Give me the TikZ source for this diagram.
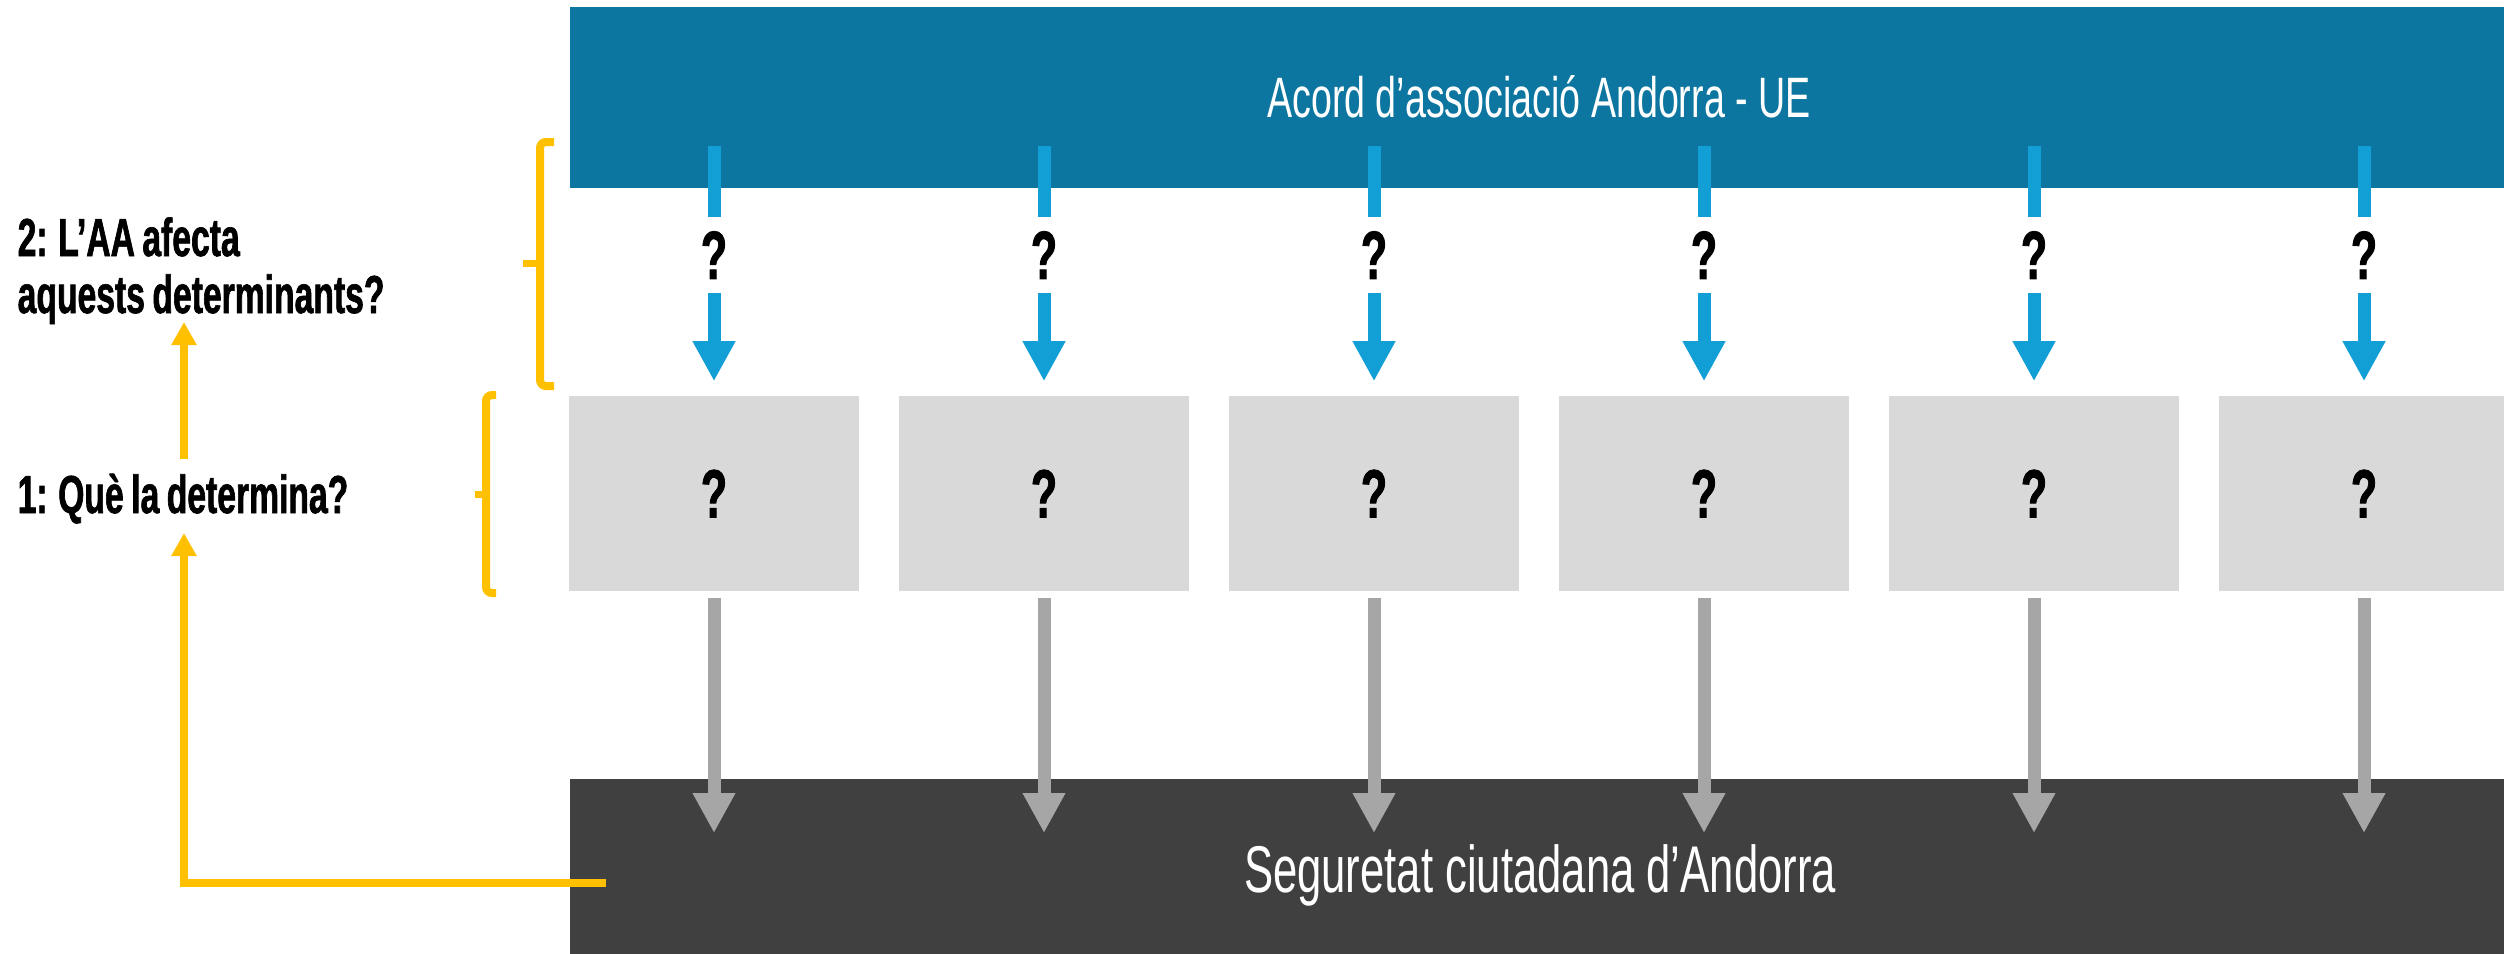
\documentclass[tikz,border=0pt]{standalone}
\usepackage{fontspec}
\setmainfont{Liberation Sans}
\newfontfamily\agR[FakeStretch=0.66]{Liberation Sans}
\newfontfamily\agB[FakeStretch=0.63,FakeBold=1.2,WordSpace=0.8]{Liberation Sans}
\usetikzlibrary{arrows.meta}
\definecolor{barblue}{RGB}{13,118,160}
\definecolor{arrblue}{RGB}{17,159,214}
\definecolor{boxgray}{RGB}{217,217,217}
\definecolor{arrgray}{RGB}{166,166,166}
\definecolor{darkbox}{RGB}{64,64,64}
\definecolor{ygold}{RGB}{255,192,0}
\begin{document}
\begin{tikzpicture}[x=0.01cm,y=-0.01cm,
  band/.style={draw=none,inner sep=0pt,minimum width=19.35cm,anchor=north west},
  qbox/.style={fill=boxgray,draw=none,inner sep=0pt,minimum width=2.89cm,minimum height=1.95cm,
    font=\agB\bfseries\fontsize{19.4}{20}\selectfont},
  qmark/.style={fill=white,draw=none,inner sep=0pt,minimum width=0.3cm,minimum height=0.76cm,
    font=\agB\bfseries\fontsize{19.4}{20}\selectfont},
  title/.style={text=white,inner sep=0pt,anchor=base},
  lab/.style={text=black,inner sep=0pt,anchor=base west,font=\agB\bfseries\fontsize{15.2}{18}\selectfont},
  barrow/.style={draw=arrblue,line width=0.13cm,-{Triangle[width=0.4cm,length=0.4cm]}},
  garrow/.style={draw=arrgray,line width=0.13cm,-{Triangle[width=0.4cm,length=0.4cm]}},
  yarrow/.style={draw=ygold,line width=0.08cm,-{Triangle[width=0.24cm,length=0.23cm]}},
  ybrace/.style={draw=ygold,line width=0.08cm,rounded corners=0.06cm}
]
\useasboundingbox (0,0) rectangle (2504,953);
\fill[white] (0,0) rectangle (2504,953);

% top and bottom bands
\node[band,fill=barblue,minimum height=1.81cm] (top) at (569,6) {};
\node[title,font=\agR\fontsize{16.2}{18}\selectfont] (toptxt) at (1539,117) {Acord d’associació Andorra - UE};
\node[band,fill=darkbox,minimum height=1.76cm] (bot) at (569,778) {};
\node[title,font=\agR\fontsize{18.8}{20}\selectfont] (bottxt) at (1540,892) {Seguretat ciutadana d’Andorra};

% columns
\foreach \i/\x in {1/714,2/1044,3/1374,4/1704,5/2034,6/2364}{
  \node[qbox] (b\i) at (\x,493.5) {?};
  \coordinate (s\i) at (\x,146);
  \coordinate (g\i) at (\x,833);
  \draw[barrow,shorten >=0.14cm] (s\i) -- (b\i.north);
  \node[qmark] (q\i) at (\x,255) {?};
  \draw[garrow,shorten <=0.06cm] (b\i.south) -- (g\i);
}

% left labels
\node[lab] (l2a) at (17,256) {2: L’AA afecta};
\node[lab] (l2b) at (17,313) {aquests determinants?};
\node[lab] (l1) at (17,513) {1: Què la determina?};

% yellow connectors
\coordinate (ys) at (606,883);
\coordinate (ye) at (184,533);
\draw[yarrow] (ys) -| (ye);
\coordinate (y2s) at (184,459);
\coordinate (y2e) at (184,322);
\draw[yarrow] (y2s) -- (y2e);

% braces
\draw[ybrace] (554,142) -- (540,142) -- (540,386) -- (554,386);
\draw[draw=ygold,line width=0.07cm] (540,263) -- (523,263);
\draw[ybrace] (496,395) -- (486,395) -- (486,593) -- (496,593);
\draw[draw=ygold,line width=0.07cm] (486,494) -- (475,494);
\end{tikzpicture}
\end{document}
